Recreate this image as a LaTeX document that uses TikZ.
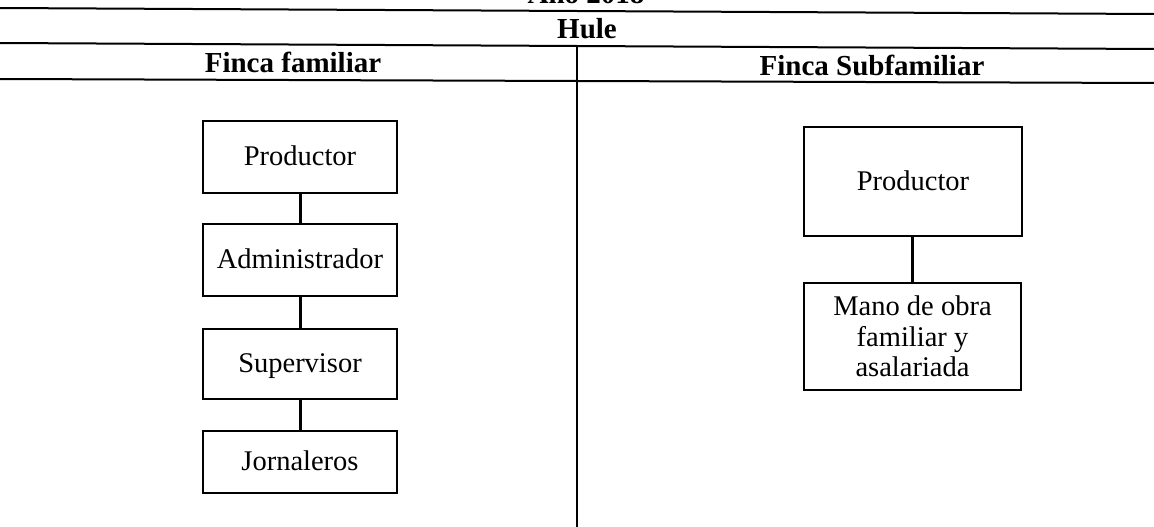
\documentclass[tikz,border=0pt]{standalone}
\usepackage{fontspec}
\setmainfont{Liberation Serif}
\begin{document}
\begin{tikzpicture}[x=1pt,y=-1pt,
  rule/.style={line width=2pt,black},
  head/.style={font=\fontsize{29}{31}\selectfont\bfseries,anchor=base,inner sep=0pt},
  orgbox/.style={draw,line width=2pt,inner sep=0pt,align=center,
    font=\fontsize{28.5}{30.5}\selectfont},
  onel/.style={text height=22pt,text depth=5pt},
  link/.style={line width=3pt}]
\useasboundingbox (0,0) rectangle (1154,527);
\clip (0,0) rectangle (1154,527);
\fill[white] (0,0) rectangle (1154,527);
% table rules
\coordinate (r1a) at (0,8);   \coordinate (r1b) at (1154,14);
\coordinate (r2a) at (0,43);  \coordinate (r2b) at (1154,49);
\coordinate (r3a) at (0,79);  \coordinate (r3b) at (1154,83);
\coordinate (vt) at (577,46); \coordinate (vb) at (577,527);
\draw[rule] (r1a) -- (r1b);
\draw[rule] (r2a) -- (r2b);
\draw[rule] (r3a) -- (r3b);
\draw[line width=2pt] (vt) -- (vb);
% headers
\node[head] (yr) at (586,4) {Año 2018};
\node[head] (hule) at (587,39) {Hule};
\node[head] (ff) at (293,73) {Finca familiar};
\node[head] (fs) at (872,75) {Finca Subfamiliar};
% left chart
\node[orgbox,onel,minimum width=194pt,minimum height=72pt] (p1) at (300,157) {Productor};
\node[orgbox,onel,minimum width=194pt,minimum height=72pt] (a1) at (300,260) {Administrador};
\node[orgbox,onel,minimum width=194pt,minimum height=70pt] (s1) at (300,364) {Supervisor};
\node[orgbox,onel,minimum width=194pt,minimum height=62pt] (j1) at (300,462) {Jornaleros};
\draw[link] (p1) -- (a1);
\draw[link] (a1) -- (s1);
\draw[link] (s1) -- (j1);
% right chart
\node[orgbox,onel,minimum width=218pt,minimum height=109pt] (p2) at (913,181.5) {Productor};
\node[orgbox,minimum width=217pt,minimum height=107pt] (m2) at (912.5,336.5) {Mano de obra\\familiar y\\asalariada};
\draw[link] (p2.south -| 912,0) -- (m2.north -| 912,0);
\end{tikzpicture}
\end{document}
